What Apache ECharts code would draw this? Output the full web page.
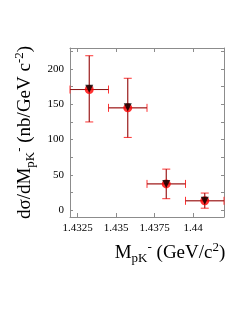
<!DOCTYPE html>
<html><head><meta charset="utf-8">
<script src="https://cdn.jsdelivr.net/npm/echarts@6/dist/echarts.min.js"></script>
<style>html,body{margin:0;padding:0;background:#fff}#c{width:249px;height:323px}</style>
</head><body><div id="c"></div>
<script>
// Data (bins of M_pK- in GeV/c^2, dσ/dM in nb/GeV c^-2)
var xCenter = [1.43325, 1.43575, 1.43825, 1.44075];
var xLow    = [1.432,   1.4345,  1.437,   1.4395];
var xHigh   = [1.4345,  1.437,   1.4395,  1.442];
var yRed     = [171, 145, 37, 13];
var yRedLow  = [125, 103, 16, 2.5];
var yRedHigh = [219, 187, 58, 24];
var yBlack     = [172, 146, 37, 13];
var xTickLabels = [1.4325, 1.435, 1.4375, 1.44];
var yTickLabels = [0, 50, 100, 150, 200];
var yMinorTicks = [0, 25, 50, 75, 100, 125, 150, 175, 200, 225];

var FONT = 'Liberation Serif';
var axisCol = '#8c8c8c';

function errItem(color, capLen, width) {
  return function (params, api) {
    var i = params.dataIndex;
    var l = api.coord([xLow[i], yRed[i]]);
    var r = api.coord([xHigh[i], yRed[i]]);
    var t = api.coord([xCenter[i], yRedHigh[i]]);
    var b = api.coord([xCenter[i], yRedLow[i]]);
    var st = {stroke: color, lineWidth: width};
    var h = capLen / 2;
    var ch = [
      {type: 'line', shape: {x1: l[0], y1: l[1], x2: r[0], y2: r[1]}, style: st},
      {type: 'line', shape: {x1: t[0], y1: t[1], x2: b[0], y2: b[1]}, style: st}
    ];
    if (capLen > 0) {
      ch.push({type: 'line', shape: {x1: l[0], y1: l[1] - h, x2: l[0], y2: l[1] + h}, style: st});
      ch.push({type: 'line', shape: {x1: r[0], y1: r[1] - h, x2: r[0], y2: r[1] + h}, style: st});
      ch.push({type: 'line', shape: {x1: t[0] - h, y1: t[1], x2: t[0] + h, y2: t[1]}, style: st});
      ch.push({type: 'line', shape: {x1: b[0] - h, y1: b[1], x2: b[0] + h, y2: b[1]}, style: st});
    }
    return {type: 'group', children: ch};
  };
}

var chart = echarts.init(document.getElementById('c'), null, {renderer: 'canvas'});
function xAx(extra) {
  return Object.assign({
    type: 'value', min: 1.432, max: 1.442,
    axisLine: {show: true, onZero: false, lineStyle: {color: axisCol, width: 1}},
    splitLine: {show: false},
    axisTick: {show: true, inside: true, length: 4, customValues: xTickLabels, lineStyle: {color: axisCol}}
  }, extra);
}
function yAx(extra) {
  return Object.assign({
    type: 'value', min: -10, max: 230,
    axisLine: {show: true, onZero: false, lineStyle: {color: axisCol, width: 1}},
    splitLine: {show: false},
    axisTick: {show: true, inside: true, length: 3, customValues: yMinorTicks, lineStyle: {color: axisCol}}
  }, extra);
}
var richT = {
  a: {fontFamily: FONT, fontSize: 19, color: '#000'},
  s: {fontFamily: FONT, fontSize: 13, color: '#000', padding: [11, 0, 0, 0]},
  p: {fontFamily: FONT, fontSize: 13, color: '#000', padding: [0, 0, 11, 0]}
};
var option = {
  animation: false,
  backgroundColor: '#fff',
  grid: {left: 70, top: 48, right: 25, bottom: 106},
  xAxis: [
    xAx({
      position: 'bottom',
      axisLabel: {show: true, customValues: xTickLabels, fontFamily: FONT, fontSize: 11, color: '#000', margin: 6,
        formatter: function (v) { return String(+(+v).toFixed(4)); }},
      name: '{a|M}{s|pK}{p|-}{a| (GeV/c}{p|2}{a|)}',
      nameLocation: 'middle', nameGap: 24,
      nameTextStyle: {padding: [0, 0, 0, 46], rich: richT}
    }),
    xAx({position: 'top', axisLabel: {show: false}})
  ],
  yAxis: [
    yAx({
      position: 'left',
      axisLabel: {show: true, customValues: yTickLabels, fontFamily: FONT, fontSize: 11, color: '#000', margin: 6},
      name: '{a|dσ/dM}{s|pK}{p|-}{a| (nb/GeV c}{p|-2}{a|)}',
      nameLocation: 'middle', nameGap: 30, nameRotate: 90,
      nameTextStyle: {rich: richT}
    }),
    yAx({position: 'right', axisLabel: {show: false}})
  ],
  series: [
    {type: 'custom', renderItem: errItem('#ff3333', 8, 1), data: xCenter.map(function (x, i) { return [x, yRed[i]]; }), z: 2, silent: true},
    {type: 'custom', renderItem: errItem('rgba(40,0,0,0.55)', 0, 1), data: xCenter.map(function (x, i) { return [x, yRed[i]]; }), z: 3, silent: true},
    {type: 'scatter', symbol: 'circle', symbolSize: 9, itemStyle: {color: '#ff0000'},
      data: xCenter.map(function (x, i) { return [x, yRed[i]]; }), z: 4},
    {type: 'scatter', symbol: 'triangle', symbolRotate: 180, symbolSize: 8, itemStyle: {color: '#000'},
      data: xCenter.map(function (x, i) { return [x, yBlack[i]]; }), z: 5}
  ]
};
chart.setOption(option);
</script>
</body></html>
